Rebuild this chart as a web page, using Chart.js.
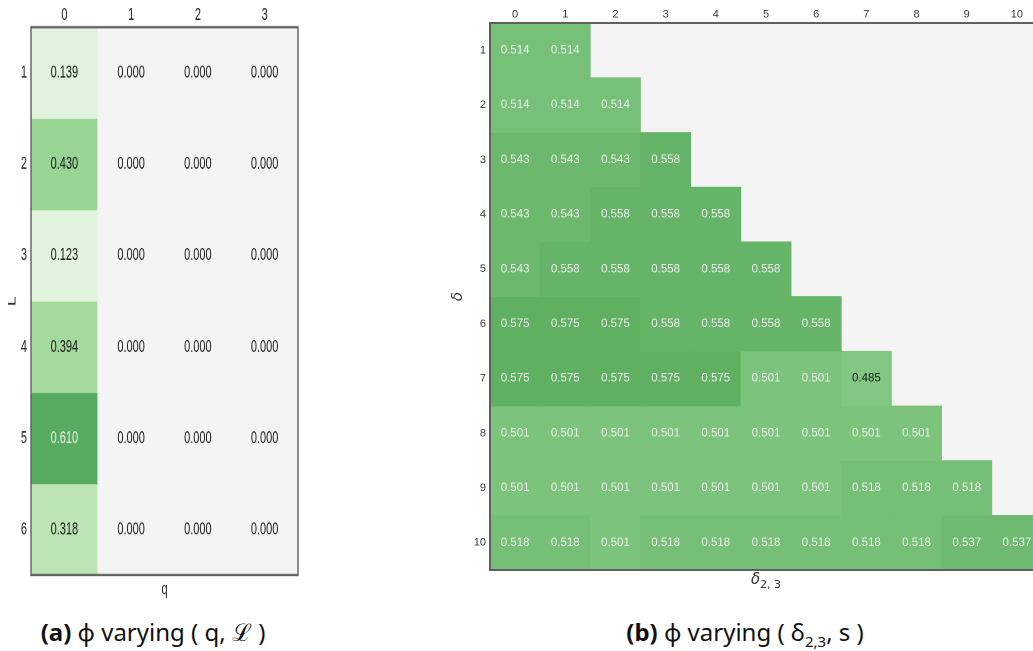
<!DOCTYPE html>
<html>
<head>
<meta charset="utf-8">
<script src="https://cdn.jsdelivr.net/npm/chart.js@4.4.1/dist/chart.umd.min.js"></script>
<style>
  html, body { margin: 0; padding: 0; background: #fff; width: 1033px; height: 651px; overflow: hidden; }
  .box { position: absolute; }
  /* panel (a) in the source figure is squashed sideways, so draw it short and stretch it */
  #box-q { left: 0; top: 0; width: 302px; height: 375px; transform: scaleY(1.6); transform-origin: 0 0; }
  .cap { position: absolute; font-family: "Noto Sans", sans-serif; font-size: 24px; color: #111; white-space: nowrap; transform: translateX(-50%); }
  .cap b { font-weight: 700; }
  .cap sub { font-size: 15px; }
  .xlab { position: absolute; font-family: "DejaVu Sans", sans-serif; font-size: 15px; color: #333; transform: translateX(-50%); white-space: nowrap; }
  .xlab sub { font-size: 11px; font-style: normal; }
</style>
</head>
<body>
<div class="box" id="box-q"><canvas id="heat-q"></canvas></div>
<div class="box" style="left:440px;top:0;width:604px;height:600px"><canvas id="heat-delta"></canvas></div>
<div class="xlab" style="left:766px;top:570px"><i>δ</i><sub>2, 3</sub></div>
<div class="cap" style="left:153px;top:615px"><b>(a)</b> ϕ varying ( q, ℒ )</div>
<div class="cap" style="left:745px;top:615px"><b>(b)</b> ϕ varying ( δ<sub>2,3</sub>, s )</div>
<script>
// panel (a): phi over (q, L)
const qLabels = ["0", "1", "2", "3"];
const lRows = [1, 2, 3, 4, 5, 6];
const phiByL = [
  [0.139, 0.000, 0.000, 0.000],
  [0.430, 0.000, 0.000, 0.000],
  [0.123, 0.000, 0.000, 0.000],
  [0.394, 0.000, 0.000, 0.000],
  [0.610, 0.000, 0.000, 0.000],
  [0.318, 0.000, 0.000, 0.000],
];

// panel (b): phi over (delta_2,3, delta), lower triangle only
const d23Labels = ["0", "1", "2", "3", "4", "5", "6", "7", "8", "9", "10"];
const deltaRows = [1, 2, 3, 4, 5, 6, 7, 8, 9, 10];
const phiByDelta = [
  [0.514, 0.514],
  [0.514, 0.514, 0.514],
  [0.543, 0.543, 0.543, 0.558],
  [0.543, 0.543, 0.558, 0.558, 0.558],
  [0.543, 0.558, 0.558, 0.558, 0.558, 0.558],
  [0.575, 0.575, 0.575, 0.558, 0.558, 0.558, 0.558],
  [0.575, 0.575, 0.575, 0.575, 0.575, 0.501, 0.501, 0.485],
  [0.501, 0.501, 0.501, 0.501, 0.501, 0.501, 0.501, 0.501, 0.501],
  [0.501, 0.501, 0.501, 0.501, 0.501, 0.501, 0.501, 0.518, 0.518, 0.518],
  [0.518, 0.518, 0.501, 0.518, 0.518, 0.518, 0.518, 0.518, 0.518, 0.537, 0.537],
];

// greens colour map
const stops = [
  [0.12, [227, 243, 223]],
  [0.32, [188, 228, 181]],
  [0.39, [166, 219, 160]],
  [0.43, [152, 212, 148]],
  [0.485, [130, 199, 130]],
  [0.575, [96, 176, 98]],
  [0.61, [86, 171, 94]],
];
const emptyColor = "#f4f4f4";

function greens(v) {
  if (v <= 0) return emptyColor;
  if (v <= stops[0][0]) return "rgb(" + stops[0][1].join(",") + ")";
  for (let i = 1; i < stops.length; i++) {
    if (v <= stops[i][0]) {
      const a = stops[i - 1], b = stops[i];
      const t = (v - a[0]) / (b[0] - a[0]);
      const c = a[1].map((x, k) => Math.round(x + (b[1][k] - x) * t));
      return "rgb(" + c.join(",") + ")";
    }
  }
  return "rgb(" + stops[stops.length - 1][1].join(",") + ")";
}

const framePlugin = {
  id: "frame",
  beforeDraw(chart, args, opts) {
    const a = chart.chartArea, ctx = chart.ctx;
    ctx.save();
    ctx.fillStyle = emptyColor;
    ctx.fillRect(a.left, a.top, a.right - a.left, a.bottom - a.top);
    ctx.restore();
  },
  afterDatasetsDraw(chart, args, opts) {
    const a = chart.chartArea, ctx = chart.ctx;
    const xs = chart.scales.x, ys = chart.scales.y;
    ctx.save();
    ctx.font = opts.font;
    ctx.textAlign = "center";
    ctx.textBaseline = "middle";
    chart.data.datasets.forEach((ds) => {
      ds.values.forEach((v, c) => {
        if (v === null) return;
        ctx.fillStyle = v > 0.49 ? opts.light : opts.dark;
        ctx.fillText(v.toFixed(3), xs.getPixelForValue(c), ys.getPixelForValue(ds.row));
      });
    });
    ctx.strokeStyle = opts.frame;
    ctx.lineWidth = opts.lineWidth;
    ctx.strokeRect(a.left, a.top, a.right - a.left, a.bottom - a.top);
    ctx.restore();
  },
};

function buildHeatmap(canvasId, cols, rows, values, cfg) {
  const datasets = rows.map((r, i) => ({
    row: r,
    values: values[i],
    data: cols.map((c, j) => (j < values[i].length ? [r - 0.5, r + 0.5] : null)),
    backgroundColor: cols.map((c, j) => greens(values[i][j] ?? 0)),
    borderWidth: 0,
    grouped: false,
    barPercentage: 1,
    categoryPercentage: 1,
  }));

  return new Chart(document.getElementById(canvasId), {
    type: "bar",
    data: { labels: cols, datasets: datasets },
    plugins: [framePlugin],
    options: {
      responsive: true,
      maintainAspectRatio: false,
      animation: false,
      devicePixelRatio: 2,
      events: [],
      layout: { padding: { right: cfg.padRight, left: 0, top: 0, bottom: 0 } },
      plugins: {
        legend: { display: false },
        tooltip: { enabled: false },
        frame: { font: cfg.cellFont, light: "#f0f0f0", dark: "#1a1a1a", frame: "#5f5f5f", lineWidth: cfg.lineWidth },
      },
      scales: {
        x: {
          type: "category",
          position: "top",
          grid: { display: false, drawTicks: false, tickLength: 0 },
          border: { display: false },
          ticks: { color: cfg.tickColor, font: cfg.tickFont, padding: cfg.xPad, maxRotation: 0 },
          afterFit: (s) => { s.height = cfg.top; },
        },
        x2: {
          type: "category",
          position: "bottom",
          labels: cols,
          grid: { display: false, drawTicks: false, tickLength: 0 },
          border: { display: false },
          ticks: { display: false },
          title: { display: cfg.xTitle !== "", text: cfg.xTitle, color: cfg.tickColor, font: cfg.tickFont, padding: 0 },
          afterFit: (s) => { s.height = cfg.bottom; },
        },
        y: {
          type: "linear",
          reverse: true,
          min: rows[0] - 0.5,
          max: rows[rows.length - 1] + 0.5,
          grid: { display: false, drawTicks: false, tickLength: 0 },
          border: { display: false },
          afterBuildTicks: (s) => { s.ticks = rows.map((v) => ({ value: v })); },
          ticks: { color: cfg.tickColor, font: cfg.tickFont, padding: 4 },
          title: { display: true, text: cfg.yTitle, color: cfg.tickColor, font: cfg.yTitleFont, padding: { top: cfg.yTitlePad, bottom: 0 } },
          afterFit: (s) => { s.width = cfg.left; },
        },
      },
    },
  });
}

// drawn at 1/1.6 height, stretched back by css
buildHeatmap("heat-q", qLabels, lRows, phiByL, {
  left: 31, top: 17, bottom: 15.6, padRight: 4, xPad: 1, lineWidth: 1.4,
  tickColor: "#222",
  tickFont: { family: "'Liberation Sans', Arial, sans-serif", size: 11 },
  cellFont: "11px 'Liberation Sans', Arial, sans-serif",
  xTitle: "q",
  yTitle: "L",
  yTitleFont: { family: "'Liberation Sans', Arial, sans-serif", size: 11 },
  yTitlePad: 6,
});

buildHeatmap("heat-delta", d23Labels, deltaRows, phiByDelta, {
  left: 50, top: 23, bottom: 30, padRight: 2, xPad: 2, lineWidth: 2,
  tickColor: "#3a3a3a",
  tickFont: { family: "'Liberation Sans', Arial, sans-serif", size: 11 },
  cellFont: "11.5px 'Liberation Sans', Arial, sans-serif",
  xTitle: "",
  yTitle: "δ",
  yTitleFont: { family: "'DejaVu Sans', sans-serif", size: 15, style: "italic" },
  yTitlePad: 9,
});
</script>
</body>
</html>
